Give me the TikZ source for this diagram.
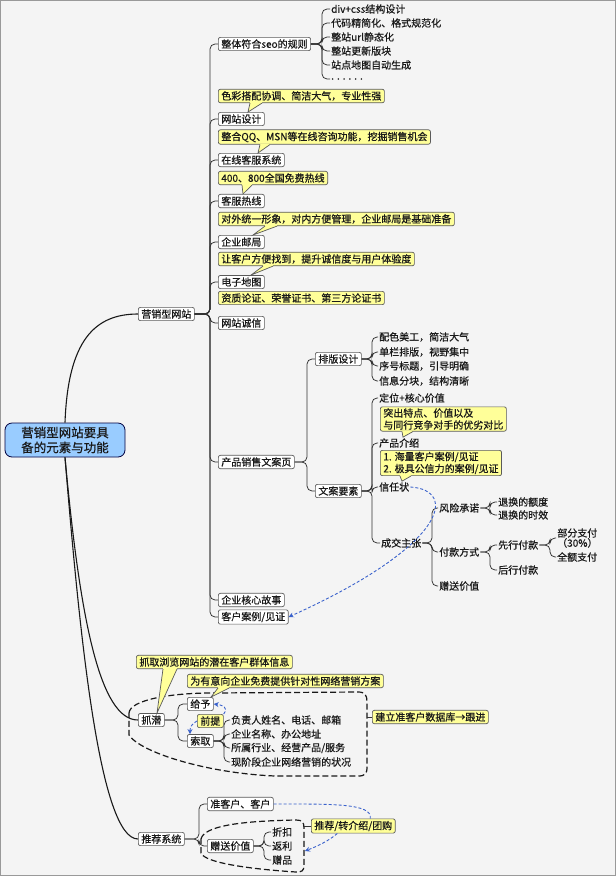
\documentclass[tikz,border=0pt]{standalone}
\usepackage{fontspec}
\setmainfont{Noto Sans CJK SC}[FakeBold=0.6]
\usetikzlibrary{calc,arrows.meta}
\definecolor{bg}{HTML}{F4F4F4}
\definecolor{ylw}{HTML}{FFFF99}
\definecolor{rootblue}{HTML}{99CCFF}
\definecolor{rel}{HTML}{3A62CC}
\definecolor{edge}{HTML}{5A5A5A}
\tikzset{
  every node/.style={font=\fontsize{10pt}{12pt}\selectfont, text=black!90},
  gbox/.style={draw=edge, fill=white, rounded corners=2pt, inner xsep=3pt, inner ysep=2pt, line width=0.7pt, anchor=west},
  ybox/.style={gbox, fill=ylw},
  txt/.style={inner xsep=1pt, inner ysep=1pt, anchor=west},
  rootbox/.style={draw=black!75!blue, fill=rootblue, rounded corners=7pt, line width=0.8pt, minimum width=120pt, minimum height=34pt, align=center, inner sep=2pt, font=\fontsize{12.5pt}{15pt}\selectfont},
  conn/.style={draw=black!80, line width=0.75pt, rounded corners=5pt},
  rootconn/.style={draw=black!90, line width=1.1pt},
  bnd/.style={draw=black!90, line width=1.2pt, dash pattern=on 6pt off 3pt},
  reldash/.style={draw=rel, line width=0.9pt, dash pattern=on 3pt off 2pt},
  relarrow/.style={reldash, -{Stealth[length=5pt,width=5pt]}},
}
\newcommand\brc[3]{\draw[conn] (#1.east) -- (#1.east -| #3,0) |- (#2.west);}
\newcommand\cptr[4]{%
  \fill[ylw] ([yshift=0.9pt]#1.south -| #2,0) rectangle ([yshift=-0.4pt]#1.south -| #3,0);
  \filldraw[fill=ylw,draw=edge,line width=0.7pt] (#1.south -| #2,0) -- #4 -- (#1.south -| #3,0);}
\begin{document}
\begin{tikzpicture}[x=1pt,y=-1pt]
\useasboundingbox (0,0) rectangle (616,876);
\fill[bg] (0,0) rectangle (616,876);
\draw[black!40, line width=1.2pt] (0.6,0.6) rectangle (615.4,875.4);

% root and main branches
\node[rootbox] (root) at (65,440) {营销型网站要具\\备的元素与功能};
\node[gbox] (yxwz) at (138,314) {营销型网站};
\node[gbox] (zq) at (138,720) {抓潜};
\node[gbox] (tjxt) at (138,839) {推荐系统};

% children of 营销型网站
\node[gbox] (seo) at (218,44) {整体符合seo的规则};
\node[ybox] (c1) at (218,96) {色彩搭配协调、简洁大气，专业性强};
\node[gbox] (wzsj) at (218,119) {网站设计};
\node[ybox] (c2) at (218,137) {整合QQ、MSN等在线咨询功能，挖掘销售机会};
\node[gbox] (zxkf) at (218,160) {在线客服系统};
\node[ybox] (c3) at (218,178) {400、800全国免费热线};
\node[gbox] (kfrx) at (218,201) {客服热线};
\node[ybox] (c4) at (218,219) {对外统一形象，对内方便管理，企业邮局是基础准备};
\node[gbox] (qyyj) at (218,242) {企业邮局};
\node[ybox] (c5) at (218,259) {让客户方便找到，提升诚信度与用户体验度};
\node[gbox] (dzdt) at (218,282) {电子地图};
\node[ybox] (c6) at (218,298) {资质论证、荣誉证书、第三方论证书};
\node[gbox] (wzcx) at (218,323) {网站诚信};
\node[gbox] (cpxs) at (218,462) {产品销售文案页};
\node[gbox] (hxgs) at (218,600) {企业核心故事};
\node[gbox] (khal) at (218,617) {客户案例/见证};

% seo children
\node[txt] (s1) at (330,9) {div+css结构设计};
\node[txt] (s2) at (330,23) {代码精简化、格式规范化};
\node[txt] (s3) at (330,37) {整站url静态化};
\node[txt] (s4) at (330,51) {整站更新版块};
\node[txt] (s5) at (330,65) {站点地图自动生成};
\node[txt] (s6) at (330,79) {. . . . . .};

% 产品销售文案页
\node[gbox] (pbsj) at (315,359) {排版设计};
\node[gbox] (wayz) at (315,491) {文案要素};
\node[txt] (p1) at (378,337) {配色美工，简洁大气};
\node[txt] (p2) at (378,352) {单栏排版，视野集中};
\node[txt] (p3) at (378,366) {序号标题，引导明确};
\node[txt] (p4) at (378,381) {信息分块，结构清晰};
\node[txt] (w1) at (378,398) {定位+核心价值};
\node[ybox, align=left, inner ysep=1.5pt] (c7) at (380,419) {突出特点、价值以及\\与同行竞争对手的优劣对比};
\node[txt] (w2) at (378,443) {产品介绍};
\node[ybox, align=left, inner ysep=1.5pt] (c8) at (380,463) {1. 海量客户案例/见证\\2. 极具公信力的案例/见证};
\node[txt] (w3) at (378,487) {信任状};
\node[txt] (w4) at (380,543) {成交主张};
\node[txt] (f1) at (438,508) {风险承诺};
\node[txt] (f2) at (438,552) {付款方式};
\node[txt] (f3) at (438,586) {赠送价值};
\node[txt] (r1) at (497,502) {退换的额度};
\node[txt] (r2) at (497,515) {退换的时效};
\node[txt] (k1) at (497,545) {先行付款};
\node[txt] (k2) at (497,570) {后行付款};
\node[txt, align=center, font=\fontsize{10pt}{10pt}\selectfont] (k11) at (556,538) {部分支付\\（30\%）};
\node[txt] (k12) at (556,557) {全额支付};

% 抓潜
\node[ybox] (c9) at (136,662) {抓取浏览网站的潜在客户群体信息};
\node[ybox] (c10) at (187,681) {为有意向企业免费提供针对性网络营销方案};
\node[gbox] (gy) at (187,704) {给予};
\node[gbox] (sq) at (187,741) {索取};
\node[txt] (q1) at (230,720) {负责人姓名、电话、邮箱};
\node[txt] (q2) at (230,734) {企业名称、办公地址};
\node[txt] (q3) at (230,748) {所属行业、经营产品/服务};
\node[txt] (q4) at (230,762) {现阶段企业网络营销的状况};
\node[ybox] (c11) at (372,717) {建立准客户数据库→跟进};

% 推荐系统
\node[gbox] (zkh) at (207,804) {准客户、客户};
\node[gbox] (zsjz) at (207,846) {赠送价值};
\node[txt] (z1) at (271,832) {折扣};
\node[txt] (z2) at (271,846) {返利};
\node[txt] (z3) at (271,860) {赠品};
\node[ybox] (c12) at (311,826) {推荐/转介绍/团购};

% boundaries
\draw[bnd] (129,713) .. controls (130,700) and (170,693) .. (212,693) -- (358,692)
  .. controls (365,692) and (367,695) .. (367,702) -- (367,767)
  .. controls (367,774) and (365,776) .. (358,776) -- (275,776)
  .. controls (205,773) and (140,752) .. (129,735) -- cycle;
\coordinate (b1r) at (367,717);
\draw[bnd] (201,839) .. controls (204,826) and (240,821) .. (296,820)
  .. controls (302,820) and (304,822) .. (304,828) -- (304,865)
  .. controls (304,871) and (302,872) .. (296,872)
  .. controls (250,869) and (205,863) .. (201,853) -- cycle;
\coordinate (b2r) at (304,826);
\coordinate (b2a) at (305,851);

% root connectors
\draw[rootconn] (root.north) .. controls (68,340) and (95,314) .. (yxwz.west);
\draw[rootconn] (root.south) .. controls (80,620) and (100,720) .. (zq.west);
\draw[rootconn] (root.south) .. controls (80,640) and (100,839) .. (tjxt.west);

% branch connectors
\foreach \c in {seo,wzsj,zxkf,kfrx,qyyj,dzdt,wzcx,cpxs,hxgs,khal} {\brc{yxwz}{\c}{210}}
\foreach \c in {s1,s2,s3,s4,s5,s6} {\brc{seo}{\c}{322}}
\foreach \c in {pbsj,wayz} {\brc{cpxs}{\c}{307}}
\foreach \c in {p1,p2,p3,p4} {\brc{pbsj}{\c}{372}}
\foreach \c in {w1,w2,w3,w4} {\brc{wayz}{\c}{372}}
\foreach \c in {f1,f2,f3} {\brc{w4}{\c}{432}}
\foreach \c in {r1,r2} {\brc{f1}{\c}{490}}
\foreach \c in {k1,k2} {\brc{f2}{\c}{490}}
\foreach \c in {k11,k12} {\brc{k1}{\c}{550}}
\foreach \c in {gy,sq} {\brc{zq}{\c}{178}}
\foreach \c in {q1,q2,q3,q4} {\brc{sq}{\c}{224}}
\foreach \c in {zkh,zsjz} {\brc{tjxt}{\c}{199}}
\foreach \c in {z1,z2,z3} {\brc{zsjz}{\c}{264}}
\draw[conn] (b1r) -- (c11.west);
\draw[conn] (b2r) -- (c12.west);

% floating topic drawn over the connectors
\node[ybox] (qt) at (197,721) {前提};

% callout pointers
\cptr{c1}{250}{262}{(wzsj.north -| 248,0)}
\cptr{c2}{260}{270}{(zxkf.north -| 258,0)}
\cptr{c3}{242}{252}{(kfrx.north -| 243,0)}
\cptr{c4}{265}{277}{(qyyj.north -| 253,0)}
\cptr{c5}{263}{273}{(dzdt.north -| 251,0)}
\cptr{c7}{402}{413}{(w2.north -| 403,0)}
\cptr{c8}{400}{411}{(w3.north -| 402,0)}
\cptr{c9}{163}{177}{(zq.north -| 157,0)}
\cptr{c10}{218}{229}{(gy.north -| 211,0)}

% relationships
\draw[relarrow] (w3.east) .. controls (458,490) and (448,545) .. (khal.east);
\draw[relarrow] (qt.north east) .. controls (229,707) and (222,705) .. (gy.east);
\draw[relarrow] (qt.west) .. controls (191,724) and (190,728) .. ([xshift=3pt]sq.north west);
\draw[reldash] (zkh.east) .. controls (330,804) and (373,803) .. ([xshift=17pt]c12.north);
\draw[relarrow] ([xshift=-16pt]c12.south) .. controls (330,840) and (318,846) .. (b2a);
\end{tikzpicture}
\end{document}
